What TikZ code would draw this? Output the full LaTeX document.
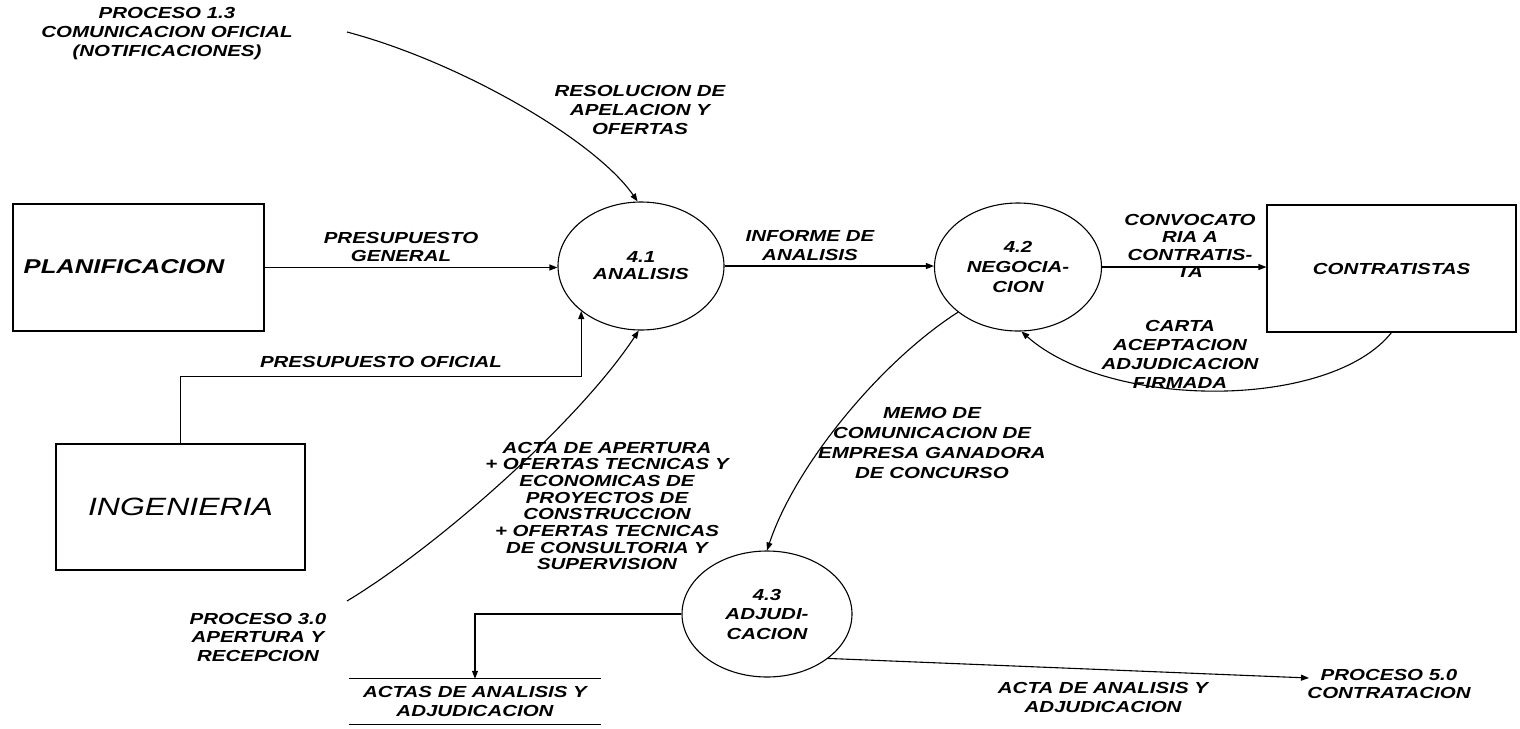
\documentclass[tikz,border=0pt]{standalone}
\usepackage{fontspec}
\setmainfont{Liberation Sans}[FakeStretch=1.28]
\usetikzlibrary{arrows.meta,shapes.geometric,calc}
\begin{document}
\begin{tikzpicture}[x=1pt,y=-1pt,
  lbl/.style={font=\fontsize{16}{18}\selectfont\bfseries\itshape, align=center, inner sep=0pt},
  boxnode/.style={draw, line width=1.1pt, inner sep=0pt},
  proc/.style={draw, ellipse, line width=1.1pt, inner sep=0pt, align=center, font=\fontsize{16}{19}\selectfont\bfseries\itshape},
  flow/.style={line width=1.1pt, -{Triangle[length=8pt,width=6pt]}},
  plain/.style={line width=1.1pt}
]
\useasboundingbox (0,0) rectangle (1520,728);

% external entities
\node[boxnode, minimum width=251pt, minimum height=127pt] (plan) at (138.5,267.5) {};
\node[lbl, font=\fontsize{20}{24}\selectfont\bfseries\itshape] (plantxt) at (124,267) {PLANIFICACION};
\node[boxnode, minimum width=249pt, minimum height=126pt, font=\fontsize{25}{30}\selectfont\itshape] (ing) at (180.5,507) {INGENIERIA};
\node[lbl, boxnode, minimum width=249pt, minimum height=127pt] (contr) at (1391.5,268.5) {CONTRATISTAS};

% processes
\node[proc, minimum width=166pt, minimum height=128pt, font=\fontsize{16}{17}\selectfont\bfseries\itshape] (a41) at (641,266) {4.1\\ANALISIS};
\node[proc, minimum width=167pt, minimum height=128pt, font=\fontsize{16}{20}\selectfont\bfseries\itshape] (a42) at (1018,267) {4.2\\NEGOCIA-\\CION};
\node[proc, minimum width=170pt, minimum height=126pt, font=\fontsize{16}{19.5}\selectfont\bfseries\itshape] (a43) at (767,614) {4.3\\ADJUDI-\\CACION};

% data store
\node[lbl, minimum width=252pt, minimum height=45pt, font=\fontsize{16}{19}\selectfont\bfseries\itshape] (store) at (475,701.5) {ACTAS DE ANALISIS Y\\ADJUDICACION};
\draw[plain] (store.north west) -- (store.north east);
\draw[plain] (store.south west) -- (store.south east);

% free ends
\coordinate (p13end) at (347,32);
\coordinate (p30end) at (347,601);
\coordinate (p50end) at (1309,678);

% external process labels
\node[lbl, font=\fontsize{16}{19}\selectfont\bfseries\itshape] (p13) at (167,34) {PROCESO 1.3\\COMUNICACION OFICIAL\\(NOTIFICACIONES)};
\node[lbl, font=\fontsize{16}{18.5}\selectfont\bfseries\itshape] (p30) at (258,637) {PROCESO 3.0\\APERTURA Y\\RECEPCION};
\node[lbl] (p50) at (1389,684) {PROCESO 5.0\\CONTRATACION};

% flow labels
\node[lbl, font=\fontsize{16}{19}\selectfont\bfseries\itshape] (resol) at (640,110) {RESOLUCION DE\\APELACION Y\\OFERTAS};
\node[lbl] (presgen) at (401,247) {PRESUPUESTO\\GENERAL};
\node[lbl] (presof) at (381,362) {PRESUPUESTO OFICIAL};
\node[lbl, font=\fontsize{16}{19}\selectfont\bfseries\itshape] (inform) at (810,245) {INFORME DE\\ANALISIS};
\node[lbl, font=\fontsize{16}{17.3}\selectfont\bfseries\itshape] (convoc) at (1190,246) {CONVOCATO\\RIA A\\CONTRATIS-\\TA};
\node[lbl, font=\fontsize{16}{19}\selectfont\bfseries\itshape] (carta) at (1180,354) {CARTA\\ACEPTACION\\ADJUDICACION\\FIRMADA};
\node[lbl, font=\fontsize{16}{20}\selectfont\bfseries\itshape] (memo) at (932,443) {MEMO DE\\COMUNICACION DE\\EMPRESA GANADORA\\DE CONCURSO};
\node[lbl, font=\fontsize{16}{16.7}\selectfont\bfseries\itshape] (acta) at (607,506) {ACTA DE APERTURA\\+ OFERTAS TECNICAS Y\\ECONOMICAS DE\\PROYECTOS DE\\CONSTRUCCION\\+ OFERTAS TECNICAS\\DE CONSULTORIA Y\\SUPERVISION};
\node[lbl, font=\fontsize{16}{19}\selectfont\bfseries\itshape] (actaan) at (1103,697) {ACTA DE ANALISIS Y\\ADJUDICACION};

% connectors
\draw[flow] (p13end) .. controls (460,62) and (595,140) .. (a41.93);
\draw[flow] (plan.east) -- (plan.east -| a41.west);
\draw[flow] (ing.north) |- ($(a41.217)+(0,65)$) -- (a41.217);
\draw[flow] (p30end) .. controls (440,545) and (580,420) .. (a41.-92);
\draw[flow] (a41.east) -- (a41.east -| a42.west);
\draw[flow] (a42.east) -- (a42.east -| contr.west);
\draw[flow] (contr.south) .. controls (1330,410) and (1110,410) .. (a42.-87);
\draw[flow] (a42.217) .. controls (880,362) and (795,466) .. (a43.north);
\draw[flow] (a43.west) -| (store.north);
\draw[flow] (a43.-36) -- (p50end);
\end{tikzpicture}
\end{document}
